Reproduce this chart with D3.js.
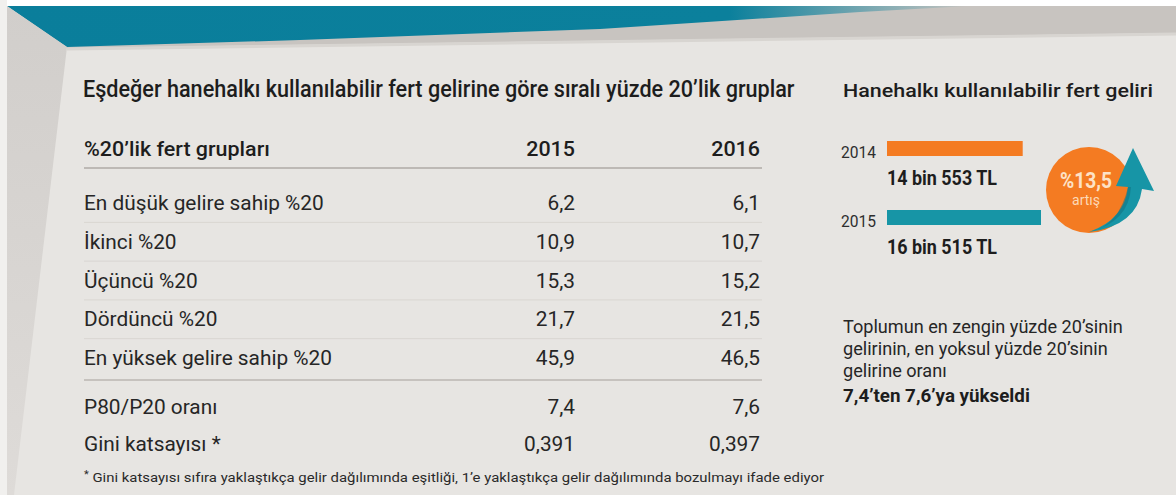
<!DOCTYPE html>
<html>
<head>
<meta charset="utf-8">
<script src="https://cdn.jsdelivr.net/npm/d3@7"></script>
<style>
  body { margin: 0; background: #fff; }
  svg { display: block; }
</style>
</head>
<body>
<script>
const W = 1176, H = 495
const font = "Roboto, 'DejaVu Sans', sans-serif"
const ink = "#1d1d1d"
const panelColour = "#e7e5e2"
const orange = "#f47b22"
const teal = "#1795a6"

// table data
const title = "Eşdeğer hanehalkı kullanılabilir fert gelirine göre sıralı yüzde 20’lik gruplar"
const headLabel = "%20’lik fert grupları"
const years = ["2015", "2016"]
const groups = ["En düşük gelire sahip %20", "İkinci %20", "Üçüncü %20", "Dördüncü %20", "En yüksek gelire sahip %20"]
const share2015 = [6.2, 10.9, 15.3, 21.7, 45.9]
const share2016 = [6.1, 10.7, 15.2, 21.5, 46.5]
const extraRows = ["P80/P20 oranı", "Gini katsayısı *"]
const ratio = [7.4, 7.6]
const gini = [0.391, 0.397]
const footnote = "Gini katsayısı sıfıra yaklaştıkça gelir dağılımında eşitliği, 1’e yaklaştıkça gelir dağılımında bozulmayı ifade ediyor"

// side panel data
const sideTitle = "Hanehalkı kullanılabilir fert geliri"
const incomeYears = ["2014", "2015"]
const income = [14553, 16515]
const increase = 13.5
const noteLines = ["Toplumun en zengin yüzde 20’sinin", "gelirinin, en yoksul yüzde 20’sinin", "gelirine oranı"]
const noteBold = "7,4’ten 7,6’ya yükseldi"

const tr = d3.formatLocale({decimal: ",", thousands: ".", grouping: [3], currency: ["", " TL"]})
const f1 = tr.format(".1f")
const f3 = tr.format(".3f")
const tl = v => `${Math.floor(v / 1000)} bin ${v % 1000} TL`

const svg = d3.select("body").append("svg")
  .attr("width", W)
  .attr("height", H)
  .attr("viewBox", [0, 0, W, H])
  .attr("font-family", font)

// horizontal squeeze factor so a sample string reaches the width
function squeeze(str, size, weight, target) {
  const t = svg.append("text").attr("font-size", size).attr("font-weight", weight).text(str)
  const w = t.node().getComputedTextLength()
  t.remove()
  return target / w
}
const at = (x, y, k) => `translate(${x},${y}) scale(${k},1)`

// ---- background: panel, top band, left wall
const defs = svg.append("defs")
const tg = defs.append("linearGradient").attr("id", "tealFade")
tg.append("stop").attr("offset", "0%").attr("stop-color", "#0a7e9b")
tg.append("stop").attr("offset", "75%").attr("stop-color", "#0b809c")
tg.append("stop").attr("offset", "100%").attr("stop-color", "#0b809c").attr("stop-opacity", 0)
const wg = defs.append("linearGradient").attr("id", "wall").attr("x2", 0).attr("y2", 1)
wg.append("stop").attr("offset", "0%").attr("stop-color", "#d1cecb")
wg.append("stop").attr("offset", "100%").attr("stop-color", "#dedbd8")

const bg = svg.append("g")
bg.append("rect").attr("width", W).attr("height", H).attr("fill", panelColour)
const poly = pts => "M" + pts.map(p => p.join(",")).join("L") + "Z"
bg.append("path").attr("fill", "#c8c4c0")
  .attr("d", poly([[7, 6], [W, 6], [W, 33], [67, 48]]))
bg.append("path").attr("fill", "none").attr("stroke", "#d8d5d1").attr("stroke-width", 3)
  .attr("d", "M67,49L" + W + ",34")
bg.append("path").attr("fill", "url(#tealFade)")
  .attr("d", poly([[7, 6], [970, 6], [860, 12], [600, 29], [300, 40], [67, 47]]))
bg.append("path").attr("fill", "url(#wall)")
  .attr("d", poly([[7, 6], [67, 47], [14, H], [7, H]]))
bg.append("rect").attr("width", W).attr("height", 6).attr("fill", "#fff")
bg.append("rect").attr("width", 7).attr("height", H).attr("fill", "#f1f0ee")

// ---- table
const left = 84
const colX = d3.scalePoint().domain(years).range([575, 760])
const rowY = d3.scalePoint().domain(groups).range([210, 365])
const extraY = d3.scalePoint().domain(extraRows).range([414, 451])
const table = svg.append("g").attr("fill", ink)

const kTitle = squeeze(title, 23, 500, 712)
table.append("text").attr("transform", at(83, 97, kTitle))
  .attr("font-size", 23).attr("font-weight", 500).text(title)

const kHead = squeeze(headLabel, 21, 500, 186)
const head = table.append("g").attr("font-weight", 500).attr("font-size", 21)
head.append("text").attr("transform", at(left, 156, kHead)).text(headLabel)
head.selectAll(".yr").data(years).join("text")
  .attr("class", "yr")
  .attr("transform", d => at(colX(d), 156, kHead))
  .attr("text-anchor", "end").text(d => d)

const lines = table.append("g")
lines.append("line").attr("x1", left).attr("x2", 762).attr("y1", 168).attr("y2", 168)
  .attr("stroke", "#bdb9b5").attr("stroke-width", 2)
lines.selectAll(".sep").data(groups.slice(0, -1)).join("line")
  .attr("class", "sep")
  .attr("x1", left).attr("x2", 762)
  .attr("y1", d => rowY(d) + rowY.step() * 0.32)
  .attr("y2", d => rowY(d) + rowY.step() * 0.32)
  .attr("stroke", "#d9d6d2").attr("stroke-width", 1)
lines.append("line").attr("x1", left).attr("x2", 762).attr("y1", 380).attr("y2", 380)
  .attr("stroke", "#c6c2be").attr("stroke-width", 2)

const rowSize = 20
const kRow = squeeze(groups[0], rowSize, 400, 240)
const body = table.append("g").attr("font-size", rowSize).attr("fill", "#262626")

const rows = groups.map((g, i) => ({label: g, y: rowY(g), v: [f1(share2015[i]), f1(share2016[i])]}))
  .concat([
    {label: extraRows[0], y: extraY(extraRows[0]), v: ratio.map(f1)},
    {label: extraRows[1], y: extraY(extraRows[1]), v: gini.map(f3)}
  ])
const rowG = body.selectAll(".row").data(rows).join("g").attr("class", "row")
rowG.append("text").attr("transform", d => at(left, d.y, kRow)).text(d => d.label)
rowG.selectAll(".val").data(d => d.v.map((v, j) => ({v, y: d.y, yr: years[j]}))).join("text")
  .attr("class", "val")
  .attr("transform", d => at(colX(d.yr), d.y, kRow))
  .attr("text-anchor", "end").text(d => d.v)

const kFoot = squeeze("* " + footnote, 13.5, 400, 742)
const fn = table.append("text").attr("transform", at(left, 482, kFoot))
  .attr("font-size", 13.5).attr("fill", "#2a2a2a")
fn.append("tspan").attr("dy", -4).attr("font-size", 10).text("*")
fn.append("tspan").attr("dy", 4).text(" " + footnote)

// ---- side panel
const sx = 843
const side = svg.append("g").attr("fill", ink)
const kSide = squeeze(sideTitle, 18, 500, 310)
side.append("text").attr("transform", at(sx, 97, kSide))
  .attr("font-size", 18).attr("font-weight", 500).text(sideTitle)

const barX = d3.scaleLinear().domain([0, d3.max(income)]).range([0, 154])
const barY = d3.scalePoint().domain(incomeYears).range([141, 210])
const barH = 15
const barColour = d3.scaleOrdinal(incomeYears, [orange, teal])
const kYear = squeeze(incomeYears[0], 17, 400, 35)
const kAmt = squeeze(tl(income[0]), 21, 700, 110)
const bars = side.selectAll(".inc").data(incomeYears.map((y, i) => ({y, v: income[i]})))
  .join("g").attr("class", "inc")
bars.append("rect")
  .attr("x", 887).attr("y", d => barY(d.y))
  .attr("width", d => barX(d.v)).attr("height", barH)
  .attr("fill", d => barColour(d.y))
bars.append("text")
  .attr("transform", d => at(sx - 2, barY(d.y) + barH + 2, kYear))
  .attr("font-size", 17).attr("fill", "#2e2e2e").text(d => d.y)
bars.append("text")
  .attr("transform", d => at(887, barY(d.y) + 44, kAmt))
  .attr("font-size", 21).attr("font-weight", 700).text(d => tl(d.v))

// increase badge
const badge = side.append("g").attr("transform", "translate(1089,190)")
badge.append("circle").attr("r", 43).attr("fill", orange)
badge.append("path").attr("fill", teal)
  .attr("d", "M0,42 Q48,36 53,-1 L65,1 L44,-42 L27,-4 L39,-3 Q36,29 0,42 Z")
badge.append("path").attr("fill", "#0f6f7e").attr("opacity", 0.5)
  .attr("d", "M0,42 Q30,36 39,-3 L42,-3 Q40,32 0,42 Z")
const pct = "%" + tr.format(".1f")(increase)
badge.append("text").attr("transform", at(-3, -2, squeeze(pct, 22, 700, 52)))
  .attr("text-anchor", "middle")
  .attr("font-size", 22).attr("font-weight", 700).attr("fill", "#fde2c6")
  .text(pct)
badge.append("text").attr("transform", at(-3, 15, squeeze("artış", 14, 400, 28)))
  .attr("text-anchor", "middle")
  .attr("font-size", 14).attr("fill", "#fcd9b8").text("artış")

// note
const kNote = squeeze(noteLines[0], 18.5, 400, 280)
side.append("g").attr("font-size", 18.5).attr("fill", "#262626")
  .selectAll("text").data(noteLines).join("text")
  .attr("transform", (d, i) => at(sx, 333 + i * 22, kNote)).text(d => d)
side.append("text").attr("transform", at(sx, 402, squeeze(noteBold, 19, 700, 187)))
  .attr("font-size", 19).attr("font-weight", 700).text(noteBold)
</script>
</body>
</html>
